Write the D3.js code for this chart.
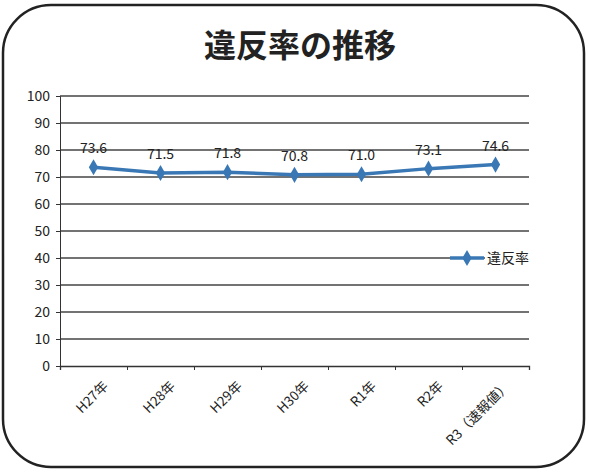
<!DOCTYPE html>
<html>
<head>
<meta charset="utf-8">
<script src="https://cdn.jsdelivr.net/npm/d3@7"></script>
<style>
  body { margin: 0; background: #fff; }
  text { font-family: "Noto Sans CJK JP", "DejaVu Sans", sans-serif; }
</style>
</head>
<body>
<svg id="chart" width="589" height="473"></svg>
<script>
// データ
const years = ["H27年", "H28年", "H29年", "H30年", "R1年", "R2年", "R3（速報値）"];
const rates = [73.6, 71.5, 71.8, 70.8, 71.0, 73.1, 74.6];
const yTicks = [0, 10, 20, 30, 40, 50, 60, 70, 80, 90, 100];
const seriesName = "違反率";
const title = "違反率の推移";

const svg = d3.select("#chart");
const lineColor = "#3a78b5";

// 枠
svg.append("rect")
  .attr("x", 3).attr("y", 5)
  .attr("width", 581).attr("height", 462)
  .attr("rx", 48).attr("ry", 48)
  .attr("fill", "#fff")
  .attr("stroke", "#222")
  .attr("stroke-width", 2.5);

svg.append("text")
  .attr("x", 300).attr("y", 57)
  .attr("text-anchor", "middle")
  .attr("font-size", 32)
  .attr("font-weight", "bold")
  .attr("fill", "#222")
  .text(title);

const x = d3.scalePoint().domain(years).range([60, 529]).padding(0.5);
const y = d3.scaleLinear().domain([0, 100]).range([366, 96]);

// グリッド
svg.append("g")
  .selectAll("line")
  .data(yTicks.filter((d) => d > 0))
  .enter()
  .append("line")
  .attr("x1", 60).attr("x2", 529)
  .attr("y1", (d) => y(d)).attr("y2", (d) => y(d))
  .attr("stroke", "#444")
  .attr("stroke-width", 1.3);

// Y軸
const yAxis = svg.append("g")
  .attr("transform", "translate(60,0)")
  .call(d3.axisLeft(y).tickValues(yTicks).tickSize(4));
yAxis.selectAll("text")
  .attr("font-size", 14)
  .attr("fill", "#222")
  .attr("x", -10);
yAxis.select(".domain").attr("stroke", "#333");
yAxis.selectAll(".tick line").attr("stroke", "#333");

// X軸
const xAxis = svg.append("g")
  .attr("transform", "translate(0,366)")
  .call(d3.axisBottom(x).tickSize(4).tickSizeOuter(4));
xAxis.select(".domain").attr("stroke", "#333").attr("stroke-width", 1.3);
xAxis.selectAll(".tick line")
  .attr("transform", `translate(${x.step() / 2},0)`)
  .attr("stroke", "#333");
xAxis.selectAll(".tick text")
  .attr("font-size", 13.5)
  .attr("fill", "#222")
  .attr("text-anchor", "end")
  .attr("dx", 0).attr("dy", 0)
  .attr("transform", "translate(10,16) rotate(-45)");

// 折れ線
const line = d3.line()
  .x((d, i) => x(years[i]))
  .y((d) => y(d));

svg.append("path")
  .datum(rates)
  .attr("d", line)
  .attr("fill", "none")
  .attr("stroke", lineColor)
  .attr("stroke-width", 3.5);

const diamond = d3.symbol().type(d3.symbolDiamond).size(75);

svg.selectAll(".pt")
  .data(rates)
  .enter()
  .append("path")
  .attr("class", "pt")
  .attr("d", diamond)
  .attr("transform", (d, i) => `translate(${x(years[i])},${y(d)})`)
  .attr("fill", lineColor);

svg.selectAll(".lbl")
  .data(rates)
  .enter()
  .append("text")
  .attr("class", "lbl")
  .attr("x", (d, i) => x(years[i]))
  .attr("y", (d) => y(d) - 14)
  .attr("text-anchor", "middle")
  .attr("font-size", 14)
  .attr("fill", "#222")
  .text((d) => d.toFixed(1));

// 凡例
const lg = svg.append("g").attr("transform", "translate(450,258)");
lg.append("line").attr("x1", 0).attr("x2", 34).attr("y1", 0).attr("y2", 0)
  .attr("stroke", lineColor).attr("stroke-width", 3.5);
lg.append("path").attr("d", diamond).attr("transform", "translate(17,0)").attr("fill", lineColor);
lg.append("rect").attr("x", 35).attr("y", -10).attr("width", 50).attr("height", 20).attr("fill", "#fff");
lg.append("text").attr("x", 37).attr("y", 5).attr("font-size", 14).attr("fill", "#222").text(seriesName);
</script>
</body>
</html>
